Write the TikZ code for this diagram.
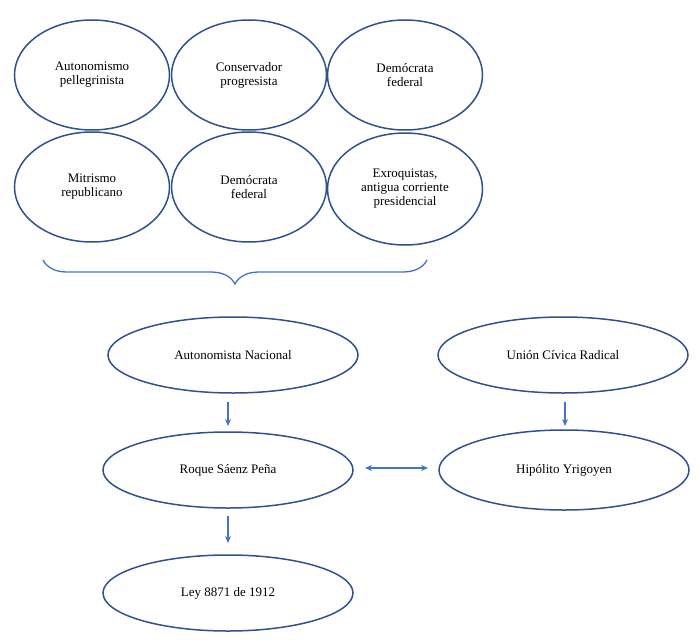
\documentclass[tikz,border=0pt]{standalone}
\usepackage{fontspec}
\setmainfont{Liberation Serif}
\usetikzlibrary{shapes.geometric,decorations.pathreplacing,arrows.meta}
\definecolor{ol}{HTML}{2F528F}
\definecolor{ar}{HTML}{4472C4}
\begin{document}
\begin{tikzpicture}[x=1pt,y=-1pt,
 e/.style={ellipse,draw=ol,line width=1.5pt,minimum width=#1,align=center,font=\fontsize{13}{14}\selectfont},
 small/.style={e=155pt,minimum height=110pt},
 big/.style={e=250pt,minimum height=76pt},
 a/.style={ar,line width=1.3pt,-{Stealth[length=7pt,width=6pt]}}]
\useasboundingbox (0,0) rectangle (700,639);
\node[small] (a1) at (92,75) {Autonomismo\\pellegrinista};
\node[small] (a2) at (249,75) {Conservador\\progresista};
\node[small] (a3) at (405,75) {Demócrata\\federal};
\node[small] (b1) at (92,187) {Mitrismo\\republicano};
\node[small] (b2) at (249,187) {Demócrata\\federal};
\node[small,minimum height=112pt] (b3) at (405,189) {Exroquistas,\\antigua corriente\\presidencial};
\coordinate (bl) at (43,260);
\coordinate (br) at (427,260);
\draw[ar,line width=1.3pt,decorate,decoration={brace,mirror,amplitude=24pt,aspect=0.5}] (bl) -- (br);
\node[big] (an) at (233,355) {Autonomista Nacional};
\node[big] (ucr) at (563,355) {Unión Cívica Radical};
\node[big] (rsp) at (228,470) {Roque Sáenz Peña};
\node[big,minimum height=80pt] (hy) at (564,470) {Hipólito Yrigoyen};
\node[big] (ley) at (228,593) {Ley 8871 de 1912};
\coordinate (p1) at (228,402); \coordinate (p2) at (228,426);
\coordinate (q1) at (565,402); \coordinate (q2) at (565,426);
\coordinate (r1) at (228,516); \coordinate (r2) at (228,543);
\coordinate (s1) at (365,468); \coordinate (s2) at (428,468);
\draw[a] (p1) -- (p2);
\draw[a] (q1) -- (q2);
\draw[a] (r1) -- (r2);
\draw[ar,line width=1.3pt,{Stealth[length=7pt,width=6pt]}-{Stealth[length=7pt,width=6pt]}] (s1) -- (s2);
\end{tikzpicture}
\end{document}
